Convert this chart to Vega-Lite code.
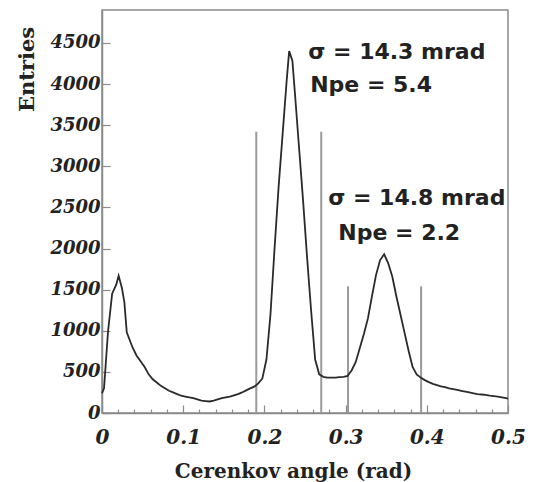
{
  "$schema": "https://vega.github.io/schema/vega-lite/v6.json",
  "width": 406,
  "height": 403,
  "autosize": {"type": "none"},
  "padding": {"left": 102, "top": 10, "right": 33, "bottom": 69},
  "background": "white",
  "config": {
    "view": {"stroke": "#8a8a8a", "strokeWidth": 1.5},
    "axis": {
      "domainColor": "#8a8a8a",
      "domainWidth": 1.5,
      "tickColor": "#8a8a8a",
      "tickWidth": 1.2,
      "grid": false,
      "labelFont": "DejaVu Serif",
      "labelFontStyle": "italic",
      "labelFontWeight": "bold",
      "labelColor": "#222",
      "titleFont": "DejaVu Serif",
      "titleFontWeight": "bold",
      "titleColor": "#222"
    }
  },
  "resolve": {"axis": {"x": "independent"}},
  "layer": [
    {
      "data": {"values": [
        {"angle": 0.19, "top": 3420},
        {"angle": 0.27, "top": 3420},
        {"angle": 0.303, "top": 1540},
        {"angle": 0.393, "top": 1540}
      ]},
      "mark": {"type": "rule", "color": "#9a9a9a", "strokeWidth": 2},
      "encoding": {
        "x": {
          "field": "angle", "type": "quantitative",
          "axis": {
            "orient": "bottom",
            "title": null,
            "labels": false,
            "domain": false,
            "tickSize": -4,
            "values": [0.02, 0.04, 0.06, 0.08, 0.12, 0.14, 0.16, 0.18, 0.22, 0.24, 0.26, 0.28, 0.32, 0.34, 0.36, 0.38, 0.42, 0.44, 0.46, 0.48]
          }
        },
        "y": {"field": "top", "type": "quantitative"},
        "y2": {"datum": 0}
      }
    },
    {
      "data": {"values": [
        {"a": 0.0000, "n": 240}, {"a": 0.0025, "n": 300}, {"a": 0.0075, "n": 1000}, {"a": 0.0125, "n": 1450},
        {"a": 0.0175, "n": 1560}, {"a": 0.0205, "n": 1670}, {"a": 0.0245, "n": 1520}, {"a": 0.0275, "n": 1350},
        {"a": 0.0305, "n": 980}, {"a": 0.0375, "n": 800}, {"a": 0.0425, "n": 700}, {"a": 0.0475, "n": 630},
        {"a": 0.0525, "n": 560}, {"a": 0.0575, "n": 470},
        {"a": 0.0625, "n": 410}, {"a": 0.0675, "n": 370}, {"a": 0.0725, "n": 330}, {"a": 0.0775, "n": 300},
        {"a": 0.0825, "n": 270}, {"a": 0.0875, "n": 250}, {"a": 0.0925, "n": 230}, {"a": 0.0975, "n": 210},
        {"a": 0.1025, "n": 200}, {"a": 0.1075, "n": 190}, {"a": 0.1125, "n": 180}, {"a": 0.1175, "n": 165},
        {"a": 0.1225, "n": 150}, {"a": 0.1275, "n": 145}, {"a": 0.1325, "n": 140}, {"a": 0.1375, "n": 150},
        {"a": 0.1425, "n": 165}, {"a": 0.1475, "n": 180}, {"a": 0.1525, "n": 190}, {"a": 0.1575, "n": 200},
        {"a": 0.1625, "n": 215}, {"a": 0.1675, "n": 230}, {"a": 0.1725, "n": 250}, {"a": 0.1775, "n": 275},
        {"a": 0.1825, "n": 300}, {"a": 0.1875, "n": 320}, {"a": 0.1925, "n": 360}, {"a": 0.1975, "n": 420},
        {"a": 0.2025, "n": 650}, {"a": 0.2075, "n": 1200}, {"a": 0.2125, "n": 2000}, {"a": 0.2175, "n": 2750},
        {"a": 0.2225, "n": 3400}, {"a": 0.2275, "n": 4050}, {"a": 0.2305, "n": 4400}, {"a": 0.2345, "n": 4280},
        {"a": 0.2375, "n": 3900}, {"a": 0.2425, "n": 3250}, {"a": 0.2475, "n": 2600}, {"a": 0.2525, "n": 1900},
        {"a": 0.2575, "n": 1250}, {"a": 0.2625, "n": 650}, {"a": 0.2675, "n": 470}, {"a": 0.2725, "n": 440},
        {"a": 0.2775, "n": 430}, {"a": 0.2825, "n": 430}, {"a": 0.2875, "n": 430}, {"a": 0.2925, "n": 435},
        {"a": 0.2975, "n": 440}, {"a": 0.3025, "n": 450}, {"a": 0.3075, "n": 520}, {"a": 0.3125, "n": 620},
        {"a": 0.3175, "n": 790}, {"a": 0.3225, "n": 960}, {"a": 0.3275, "n": 1150}, {"a": 0.3325, "n": 1420},
        {"a": 0.3375, "n": 1680}, {"a": 0.3425, "n": 1860}, {"a": 0.3475, "n": 1930}, {"a": 0.3525, "n": 1820},
        {"a": 0.3575, "n": 1660}, {"a": 0.3625, "n": 1420}, {"a": 0.3675, "n": 1200}, {"a": 0.3725, "n": 980},
        {"a": 0.3775, "n": 760}, {"a": 0.3825, "n": 560}, {"a": 0.3875, "n": 470}, {"a": 0.3925, "n": 430},
        {"a": 0.3975, "n": 400}, {"a": 0.4025, "n": 375}, {"a": 0.4075, "n": 355}, {"a": 0.4125, "n": 340},
        {"a": 0.4175, "n": 325}, {"a": 0.4225, "n": 315}, {"a": 0.4275, "n": 300}, {"a": 0.4325, "n": 290},
        {"a": 0.4375, "n": 280}, {"a": 0.4425, "n": 270}, {"a": 0.4475, "n": 260}, {"a": 0.4525, "n": 250},
        {"a": 0.4575, "n": 240}, {"a": 0.4625, "n": 230}, {"a": 0.4675, "n": 225}, {"a": 0.4725, "n": 220},
        {"a": 0.4775, "n": 210}, {"a": 0.4825, "n": 205}, {"a": 0.4875, "n": 200}, {"a": 0.4925, "n": 190},
        {"a": 0.4975, "n": 180}, {"a": 0.5000, "n": 175}
      ]},
      "mark": {"type": "line", "interpolate": "linear", "color": "#2a2a2a", "strokeWidth": 1.8},
      "encoding": {
        "x": {
          "field": "a", "type": "quantitative",
          "scale": {"domain": [0, 0.5], "nice": false, "zero": false},
          "axis": {
            "orient": "bottom",
            "title": "Cerenkov angle (rad)",
            "titleFontSize": 20,
            "titleX": 191,
            "titleY": 64,
            "titleBaseline": "alphabetic",
            "values": [0, 0.1, 0.2, 0.3, 0.4, 0.5],
            "format": "~g",
            "tickSize": -8,
            "labelFontSize": 20,
            "labelPadding": 22,
            "labelFlush": false,
            "labelOverlap": false
          }
        },
        "y": {
          "field": "n", "type": "quantitative",
          "scale": {"domain": [0, 4900], "nice": false},
          "axis": {
            "title": "Entries",
            "titleFontSize": 21,
            "titleAngle": -90,
            "titleX": -75,
            "titleY": 59,
            "titleAlign": "center",
            "titleBaseline": "middle",
            "values": [0, 250, 500, 750, 1000, 1250, 1500, 1750, 2000, 2250, 2500, 2750, 3000, 3250, 3500, 3750, 4000, 4250, 4500, 4750],
            "labelExpr": "datum.value % 500 == 0 ? format(datum.value, 'd') : ''",
            "tickSize": {"condition": {"test": "datum.value % 500 == 0", "value": -8}, "value": -4},
            "labelFontSize": 18,
            "labelPadding": 10,
            "labelOverlap": false,
            "labelFlush": false
          }
        }
      }
    },
    {
      "data": {"values": [
        {"x": 0.254, "y": 4310, "label": "σ = 14.3 mrad"},
        {"x": 0.2564, "y": 3905, "label": "Npe = 5.4"},
        {"x": 0.2786, "y": 2529, "label": "σ = 14.8 mrad"},
        {"x": 0.291, "y": 2104, "label": "Npe = 2.2"}
      ]},
      "mark": {"type": "text", "align": "left", "baseline": "alphabetic", "font": "DejaVu Sans", "fontWeight": "bold", "fontSize": 22, "color": "#222"},
      "encoding": {
        "x": {"field": "x", "type": "quantitative", "axis": null},
        "y": {"field": "y", "type": "quantitative"},
        "text": {"field": "label"}
      }
    }
  ]
}
